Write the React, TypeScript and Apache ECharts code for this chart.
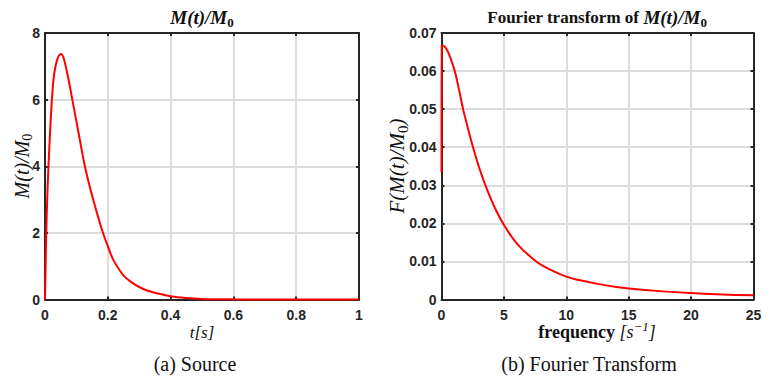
import React, { useEffect, useRef } from "react";
import * as echarts from "echarts";

// Source signal M(t)/M0
const timeS = [0, 0.002, 0.004, 0.007, 0.011, 0.015, 0.022, 0.029, 0.039, 0.051, 0.058, 0.066, 0.076, 0.087, 0.099, 0.111, 0.127, 0.14, 0.155, 0.17, 0.184, 0.2, 0.216, 0.234, 0.252, 0.275, 0.297, 0.325, 0.356, 0.4, 0.45, 0.5, 0.6, 0.7, 0.8, 0.9, 1.0];
const sourceValues = [0, 1.0, 2.0, 3.0, 4.0, 4.8, 6.0, 6.75, 7.2, 7.37, 7.28, 7.0, 6.55, 6.0, 5.4, 4.79, 4.0, 3.48, 2.95, 2.45, 2.02, 1.6, 1.22, 0.93, 0.7, 0.52, 0.39, 0.27, 0.19, 0.1, 0.045, 0.018, 0.004, 0.001, 0, 0, 0];

// Fourier transform of M(t)/M0
const freq = [0, 0.02, 0.15, 0.4, 0.7, 1.06, 1.4, 1.73, 2.1, 2.48, 3.0, 3.6, 4.2, 4.93, 6.04, 7.59, 8.79, 10, 11, 12.5, 14, 15, 17.5, 20, 22.5, 25];
const fourierValues = [0.0335, 0.0668, 0.0667, 0.0658, 0.0636, 0.06, 0.0552, 0.05, 0.0452, 0.0405, 0.0348, 0.0293, 0.0246, 0.02, 0.0147, 0.01, 0.0077, 0.006, 0.0051, 0.0041, 0.0033, 0.0029, 0.0022, 0.0017, 0.0013, 0.0011];

// Axis ranges / ticks
const sourceX = { min: 0, max: 1, interval: 0.2 };
const sourceY = { min: 0, max: 8, interval: 2 };
const fourierX = { min: 0, max: 25, interval: 5 };
const fourierY = { min: 0, max: 0.07, interval: 0.01 };

const DARK = "#262626";
const SERIF = "Liberation Serif";

export default function App() {
  const ref = useRef<HTMLDivElement>(null);

  useEffect(() => {
    if (!ref.current) return;
    const chart = echarts.init(ref.current, undefined, { renderer: "svg" });

    const axisLine = { show: true, onZero: false, lineStyle: { color: DARK, width: 2 } };
    const axisTick = { show: true, inside: true, length: 3, lineStyle: { color: DARK, width: 2 } };
    const tickLabel = { fontFamily: "Liberation Sans", fontWeight: "bold" as const, fontSize: 14, lineHeight: 14, color: DARK };
    const noSplit = { show: false };

    const frameAxis = (gi: number, r: any, position: string, labelMargin: number | null) => ({
      type: "value", gridIndex: gi, position, ...r, z: 1,
      axisLine, axisTick,
      axisLabel: labelMargin === null ? { show: false } : { ...tickLabel, margin: labelMargin },
      splitLine: noSplit,
    });
    const gridAxis = (gi: number, r: any, position: string) => ({
      type: "value", gridIndex: gi, position, ...r, z: 0,
      axisLine: { show: false }, axisTick: { show: false }, axisLabel: { show: false },
      splitLine: { show: true, lineStyle: { color: "#dcdcdc", width: 2 } },
    });

    const mathRich = (size: number, bold: boolean, lh: number, bSize: number) => {
      const subPad = Math.round(size * 0.5);
      const supPad = Math.round(size * 0.6);
      return {
        m: { fontFamily: SERIF, fontStyle: "italic", fontWeight: bold ? "bold" : "normal", fontSize: size, lineHeight: lh, fill: "#111" },
        s: { fontFamily: SERIF, fontWeight: bold ? "bold" : "normal", fontSize: Math.round(size * 0.7), lineHeight: lh, padding: [subPad, 0, 0, 0], fill: "#111" },
        b: { fontFamily: SERIF, fontWeight: "bold", fontSize: bSize, lineHeight: lh, fill: "#111" },
        sup: { fontFamily: SERIF, fontStyle: "italic", fontSize: Math.round(size * 0.7), lineHeight: lh, padding: [0, 0, supPad, 0], fill: "#111" },
        r: { fontFamily: SERIF, fontSize: size, lineHeight: lh, fill: "#111" },
      };
    };

    const txt = (x: number, y: number, text: string, size: number, bold: boolean, rotation = 0, lh = size + 4, bSize = size) => ({
      type: "text", x, y, rotation,
      style: { text, rich: mathRich(size, bold, lh, bSize), align: "center", verticalAlign: "middle", fill: "#111" },
    });

    chart.setOption({
      animation: false,
      backgroundColor: "#ffffff",
      grid: [
        { left: 45, top: 33, width: 314, height: 266.5 },
        { left: 441.5, top: 33, width: 312, height: 266.5 },
      ],
      xAxis: [
        frameAxis(0, sourceX, "bottom", 8),
        frameAxis(0, sourceX, "top", null),
        gridAxis(0, sourceX, "bottom"),
        frameAxis(1, fourierX, "bottom", 8),
        frameAxis(1, fourierX, "top", null),
        gridAxis(1, fourierX, "bottom"),
      ],
      yAxis: [
        frameAxis(0, sourceY, "left", 5),
        frameAxis(0, sourceY, "right", null),
        gridAxis(0, sourceY, "left"),
        frameAxis(1, fourierY, "left", 5),
        frameAxis(1, fourierY, "right", null),
        gridAxis(1, fourierY, "left"),
      ],
      series: [
        {
          type: "line", xAxisIndex: 0, yAxisIndex: 0, z: 5,
          data: timeS.map((t, i) => [t, sourceValues[i]]),
          symbol: "none", smooth: 0.4, clip: false,
          lineStyle: { color: "#ff0000", width: 2 },
        },
        {
          type: "line", xAxisIndex: 3, yAxisIndex: 3, z: 5,
          data: freq.map((f, i) => [f, fourierValues[i]]),
          symbol: "none", smooth: 0.4, clip: false,
          lineStyle: { color: "#ff0000", width: 2 },
        },
      ],
      graphic: [
        txt(202, 17, "{m|M(t)/M}{s|0}", 19, true),
        txt(597, 17, "{b|Fourier transform of }{m|M(t)/M}{s|0}", 19, true, 0, 23, 17),
        txt(22, 166, "{m|M(t)/M}{s|0}", 20, false, Math.PI / 2),
        txt(397, 166, "{m|F(M(t)/M}{s|0}{m|)}", 21, false, Math.PI / 2),
        txt(202, 332, "{m|t[s]}", 17, false, 0, 18),
        txt(597, 332, "{b|frequency }{m|[s}{sup|−1}{m|]}", 18, false, 0, 18),
        txt(195, 364, "{r|(a) Source}", 20, false),
        txt(589, 364, "{r|(b) Fourier Transform}", 20, false),
      ],
    });

    return () => chart.dispose();
  }, []);

  return (
    <div
      ref={ref}
      style={{ position: "absolute", left: 0, top: 0, width: 770, height: 377, background: "#fff" }}
    />
  );
}
